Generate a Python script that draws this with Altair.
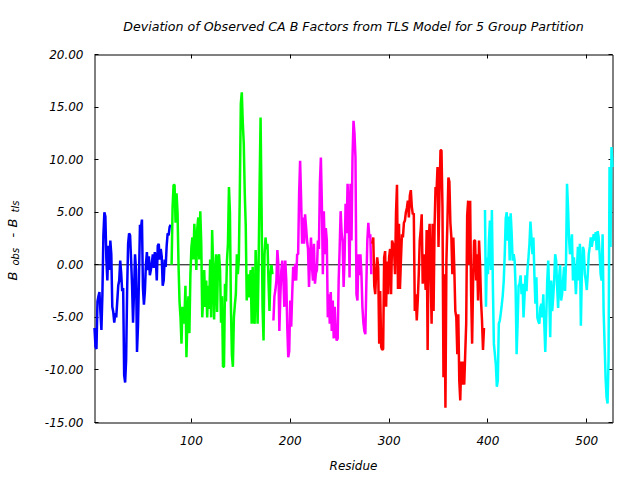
import altair as alt
import pandas as pd

# ---- data ----
group_names = ["Group 1", "Group 2", "Group 3", "Group 4", "Group 5"]
group_colors = ["#0000ff", "#00ff00", "#ff00ff", "#ff0000", "#00ffff"]
first_residue = 2

blue = [-6.0, -7.8, -8.0, -3.5, -3.0, -2.6, -4.5, -6.2, -2.8, 2.8,
        5.0, 4.6, 0.5, -1.5, 1.8, -0.5, 2.3, 1.0, -4.0, -4.5,
        -5.5, -4.6, -5.0, -3.5, -2.0, -1.5, 0.4, -0.8, -2.5, -2.2,
        -10.5, -11.2, -9.0, -2.5, 2.0, 3.0, 2.8, 0.5, -2.0, -5.5,
        -2.5, 1.0, -0.5, -8.3, -5.8, -1.2, 3.8, 3.5, 4.3, -2.2,
        -3.8, -2.5, 0.0, 1.2, -0.5, 0.8, -1.0, -0.5, 0.2, 1.0,
        -0.3, 1.2, 0.6, -1.5, 1.8, 2.0, 0.5, 1.5, 0.8, -2.0,
        -1.5, 0.5, -0.2, 1.8, 3.0, 2.8, 3.6, 3.8]

green = [0.0, 5.5, 7.6, 7.6, 4.0, 6.8, 5.0, 0.0, -3.5, -5.0,
         -7.5, -4.0, -5.6, -5.0, -2.0, -8.8, -5.0, -3.0, -6.5, -1.0,
         1.6, 2.6, 0.5, 3.9, 2.0, -0.5, 3.5, 4.5, 0.5, 5.1,
         2.0, -5.0, -3.0, -0.5, -4.0, -1.5, -5.0, -2.0, -4.2, 0.5,
         -5.0, 3.3, 0.0, -5.2, -1.0, 1.0, -4.5, 0.5, 1.0,
         -0.5, -5.5, -3.0, -9.7, -9.7, -1.8, -3.5, 0.4, 2.0, 7.4,
         5.0, -4.0, -8.6, -9.7, -5.0, -3.8, -2.8, 1.0, -0.9, 0.5,
         6.9, 15.3, 16.4, 13.5, 11.5, 6.8, 3.7, -3.4, -0.9, -3.1,
         -1.5, -0.5, -5.6, -0.2, -5.3, -5.6, 1.4, -1.5, -5.6, 0.0,
         7.4, 14.0, 5.5, -4.0, -7.2, 1.0, 2.6, 1.5, 2.0, -1.5,
         -4.4, -1.0, 0.0, -0.9]

magenta = [-5.3, -3.0, -2.4, -1.5, 1.4, 0.0, -6.3, -3.0, -0.5, 0.4,
           -1.2, -4.0, 0.4, -1.5, -5.9, -8.8, -8.2, -3.4, -5.9, -2.8,
           -0.2, -1.5, 0.1, -1.5, 1.0, 1.0, 6.8, 9.9, 6.3, 2.0,
           4.5, 2.0, 4.8, 3.6, 2.3, 1.5, -2.1, 0.5, 2.6, -0.2,
           -1.5, 2.0, -1.8, -0.8, -0.5, 2.3, 1.5, 7.7, 10.2, 5.8,
           -0.9, 5.1, 1.0, 3.5, 2.3, -5.0, -2.8, -5.6, -2.6, -6.3,
           -3.4, -7.0, -4.0, -6.5, -7.2, -7.0, -1.5, 1.6, 5.1, 3.0,
           2.2, -2.1, 0.8, 5.8, 3.0, 7.7, 5.5, -1.2, 7.7, 2.3,
           10.2, 13.7, 12.5, 10.2, -2.8, -3.4, 1.0,
           -1.0, 1.0, -0.8, -4.0, -5.5, -6.3, -6.6, -1.8, 2.3, 4.0,
           2.6, 2.9, -0.9]

red = [2.0, 2.6, -2.0, -2.8, -0.5, 0.7, -0.3, -7.5, -2.5, -7.8,
       -8.1, -8.0, 0.7, 1.3, -4.0, 0.3, -2.8, 0.7, 1.5, -2.8,
       2.3, 2.0, 1.5, -0.9, 4.9, 7.6, -2.3, 3.9, -2.3, 0.5,
       2.9, 2.6, 4.0, 4.2, 5.0, 5.4, 6.1, 4.5, 6.6, 7.1,
       5.5, 4.8, 4.9, -4.4, -2.8, -5.3, -3.4, -0.9, 2.3, 3.3,
       4.8, -1.8, 1.0, -0.5, -2.4, 3.3, -8.1, 2.3, 3.9, -0.5,
       -5.6, 3.9, -4.4, 3.6, 7.4, 7.0, 9.3, 1.7, 6.7, 10.9,
       10.9, 5.5, -10.7, -0.9, -13.6, 0.4, 4.0, 8.3, 7.9, 4.0,
       2.6, -0.9, 2.6, -0.5, -4.4, -5.0, -8.5, -4.7, -11.0, -12.9,
       -9.2, -11.4, -9.2, -11.4, -8.5, -5.6, 4.7, 6.1, 0.0, 6.1,
       -2.8, -7.5, -1.5, 2.3, 2.3, -1.5, 1.0, -3.4, 2.3, 0.1,
       -3.4, -5.3, -8.1, -6.0]

cyan = [5.2, -4.0, 0.7, -0.9, 2.3, 4.2, -0.5, 5.2, -2.0, -7.5,
        -8.5, -9.5, -11.6, -11.0, -5.6, -5.3, -4.6, -3.8, -2.9, -1.5,
        1.0, 4.4, 5.0, 2.3, 4.6, 0.4, 4.9, 3.0, 0.4, 1.0,
        0.4, -2.2, -8.5, -5.6, -2.0, -1.8, -1.0, -2.8, -1.8, -5.0,
        -3.0, -1.0, -2.5, -0.5, 0.7, 2.0, 4.1, 2.6, 1.0, 2.6,
        -1.0, -3.7, -1.2, -5.0, -5.4, -5.6, -4.1, -3.7, -5.0, -2.8,
        -5.6, -8.3, -4.9, -1.5, 0.4, -2.8, -6.9, -1.5, -4.4, -3.1,
        -1.5, 1.0, 0.4, -2.1, -4.1, -1.2, 0.0, -3.4, -2.8, -1.5,
        -0.2, -2.5, 0.4, 7.7, 5.5, 2.5, 1.0, 2.0, 2.9, -1.5,
        0.7, -0.9, -2.8, -0.5, 1.7, -1.5, 2.0, -5.8, -0.9, 1.7,
        1.4, -0.9, -1.5, -2.4, -0.9, 1.0, 1.7, 2.6, 1.7, 2.3,
        2.9, 2.3, 3.1, 1.4, 3.2, 2.6, 1.0, -0.9, -1.5, 2.9,
        -4.4, -7.5, -10.7, -12.6, -13.2, -9.0, 9.3, 1.7, 11.2, 9.3]

x_ticks = [100, 200, 300, 400, 500]
y_ticks = [-15, -10, -5, 0, 5, 10, 15, 20]
x_domain = [2, 526]
y_domain = [-15, 20]

title_text = "Deviation of Observed CA B Factors from TLS Model for 5 Group Partition"
x_title = "Residue"
# y title pieces: B_obs - B_tls
ytitle_texts = ["B", "obs", "-", "B", "tls"]
ytitle_sizes = [13, 10, 13, 13, 10]

# ---- build table ----
rows = []
r = first_residue
for name, vals in zip(group_names, [blue, green, magenta, red, cyan]):
    for v in vals:
        rows.append({"residue": r, "value": v, "group": name})
        r += 1
df = pd.DataFrame(rows)

FONT = "DejaVu Sans"
W, H = 518, 368

xscale = alt.Scale(domain=x_domain, nice=False, zero=False)
yscale = alt.Scale(domain=y_domain, nice=False, zero=False)

neg_label = "datum.value < 0 ? '-' + format(-datum.value, '.2f') : format(datum.value, '.2f')"

common = dict(domain=False, grid=False, offset=-4, tickSize=4, tickColor="black",
              tickWidth=1, translate=0)

x_axis = alt.Axis(orient="bottom", values=x_ticks, format="d", labelPadding=13,
                  labelFont=FONT, labelFontSize=12, labelFontStyle="italic", labelColor="black",
                  title=x_title, titleFont=FONT, titleFontSize=12, titleFontStyle="italic",
                  titleFontWeight="normal", titleColor="black", titlePadding=14, **common)
y_axis = alt.Axis(orient="left", values=y_ticks, labelExpr=neg_label, labelPadding=11,
                  labelFont=FONT, labelFontSize=12, labelFontStyle="italic", labelColor="black",
                  title=None, **common)
x_axis_top = alt.Axis(orient="top", values=x_ticks, labels=False, title=None, **common)
y_axis_right = alt.Axis(orient="right", values=y_ticks, labels=False, title=None, **common)

color = alt.Color("group:N", scale=alt.Scale(domain=group_names, range=group_colors), legend=None)

zero = alt.Chart(pd.DataFrame({"y": [0]})).mark_rule(color="black", strokeWidth=1).encode(
    y=alt.Y("y:Q", scale=yscale, axis=None)
)

lines = alt.Chart(df).mark_line(strokeWidth=2.5, strokeJoin="bevel").encode(
    x=alt.X("residue:Q", scale=xscale, axis=x_axis),
    y=alt.Y("value:Q", scale=yscale, axis=y_axis),
    color=color,
)

mirror = alt.Chart(df).mark_line(opacity=0).encode(
    x=alt.X("residue:Q", scale=xscale, axis=x_axis_top),
    y=alt.Y("value:Q", scale=yscale, axis=y_axis_right),
    detail="group:N",
)

# y-axis title composed of pieces (rotated)
ypos = [226, 211, 183, 173, 158]
xpos = [-77.5, -75.5, -77.5, -77.5, -75.5]
ytitle_layers = []
for t, s, xp, yp in zip(ytitle_texts, ytitle_sizes, xpos, ypos):
    ytitle_layers.append(
        alt.Chart(pd.DataFrame({"t": [t]})).mark_text(
            angle=270, align="left", baseline="alphabetic", font=FONT,
            fontStyle="italic", fontSize=s, color="black"
        ).encode(text="t:N", x=alt.value(xp), y=alt.value(yp))
    )

chart = alt.layer(zero, lines, mirror, *ytitle_layers).resolve_axis(
    x="independent", y="independent"
).properties(
    width=W, height=H,
    background="white",
    title=alt.TitleParams(title_text, font=FONT, fontSize=12.6, fontStyle="italic",
                          fontWeight="normal", color="black", anchor="middle", offset=15),
    autosize=alt.AutoSizeParams(type="none"),
    padding={"left": 94.5, "top": 54.5, "right": 27.5, "bottom": 57.5},
).configure_view(stroke="black", strokeWidth=1)

chart.save("out.html", embed_options={"renderer": "svg", "actions": False})
